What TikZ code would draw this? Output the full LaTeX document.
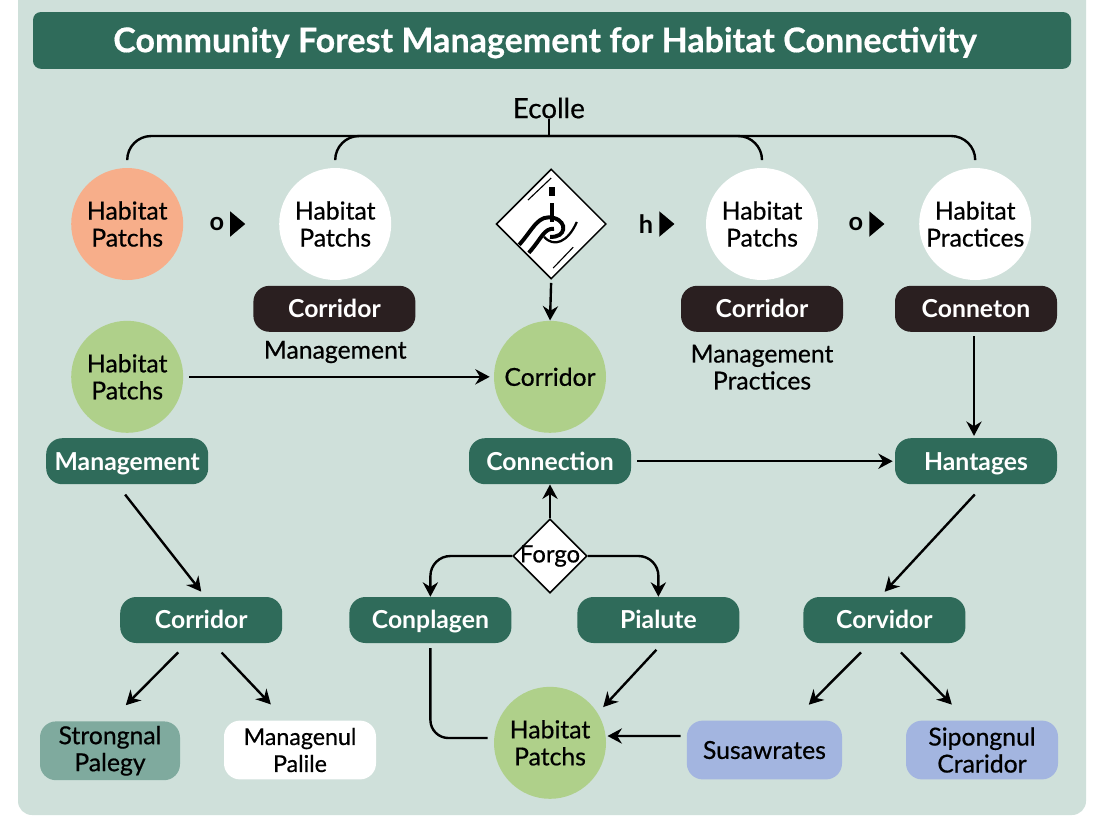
\documentclass[tikz,border=0pt]{standalone}
\usepackage{fontspec}
\setmainfont{Lato}
\newfontfamily\labelfont{Lato}[FakeBold=0.6]
\usetikzlibrary{arrows.meta}
\usetikzlibrary{shapes.geometric}
\definecolor{panelbg}{HTML}{CFE0DA}
\definecolor{forest}{HTML}{2F6B5A}
\definecolor{bark}{HTML}{2A1F20}
\definecolor{leaf}{HTML}{AFD08A}
\definecolor{peach}{HTML}{F7AE8A}
\definecolor{sage}{HTML}{7FAA9E}
\definecolor{skyblue}{HTML}{A3B5E0}
\tikzset{
  habitat/.style={circle,minimum size=2.8cm,inner sep=0pt,align=center,font=\labelfont\fontsize{17.6}{19.2}\selectfont},
  pill/.style={rounded corners=0.4cm,minimum width=4.05cm,minimum height=1.15cm,inner sep=0pt,text height=0.5cm,text depth=0.06cm,text=white,font=\fontsize{17.6}{19.2}\selectfont\bfseries},
  leafbox/.style={rounded corners=0.4cm,minimum width=3.8cm,minimum height=1.47cm,inner sep=0pt,align=center,font=\labelfont\fontsize{17.6}{19.2}\selectfont},
  caption/.style={inner sep=0pt,align=center,font=\labelfont\fontsize{17.6}{19.2}\selectfont},
  flow/.style={-{Stealth[length=0.36cm,width=0.38cm]},black,line width=1.7pt},
  stem/.style={black,line width=1.7pt},
  playtip/.style={isosceles triangle,isosceles triangle apex angle=80,fill=black,inner sep=0pt,minimum height=0.38cm},
  glyph/.style={inner sep=0pt,font=\fontsize{18}{20}\selectfont\bfseries}
}
\begin{document}
\begin{tikzpicture}
  \useasboundingbox (0,0) rectangle (27.6,-20.8);
  \fill [white] (0,0) rectangle (27.6,-20.8);
  \fill [panelbg,rounded corners=0.35cm] (0.45,0.5) rectangle (27.15,-20.375);
  \node (title) at (13.8,-1.01) [fill=forest,rounded corners=0.2cm,minimum width=25.95cm,minimum height=1.42cm,inner ysep=0pt,text height=0.75cm,text depth=0.16cm,text=white,font=\fontsize{24.2}{29}\selectfont\bfseries\addfontfeature{FakeBold=0.5}] {Community Forest Management for Habitat Connectivity\hspace*{0.35cm}};
  \node (ecolle) at (13.72,-2.7) [caption,font=\labelfont\fontsize{19.8}{22}\selectfont] {Ecolle};
  \coordinate (bartop) at (13.72,-3.4);

  % top row
  \node (patcha) at (3.18,-5.6) [habitat,fill=peach] {Habitat\\Patchs};
  \node (patchb) at (8.38,-5.6) [habitat,fill=white] {Habitat\\Patchs};
  \node (knot) at (13.78,-5.6) [diamond,aspect=1,draw=black,fill=white,line width=1.1pt,minimum size=2.75cm,inner sep=0pt] {};
  \node (patchc) at (19.05,-5.6) [habitat,fill=white] {Habitat\\Patchs};
  \node (practice) at (24.38,-5.6) [habitat,fill=white] {Habitat\\Practices};

  \node (oa) at (5.42,-5.6) [glyph] {o};
  \node (tipa) at (5.9,-5.6) [playtip] {};
  \node (hb) at (16.15,-5.6) [glyph] {h};
  \node (tipb) at (16.63,-5.6) [playtip] {};
  \node (oc) at (21.4,-5.6) [glyph] {o};
  \node (tipc) at (21.88,-5.6) [playtip] {};

  % knot inside the sign
  \draw [black,line width=0.8pt] (13.2,-5.0) -- (13.78,-4.45);
  \draw [black,line width=0.8pt] (13.83,-6.7) -- (14.33,-6.18);
  \fill [black] (13.72,-4.68) rectangle (13.87,-4.9);
  \draw [black,line width=2.8pt] (13.8,-5.08) -- (13.8,-5.55);
  \draw [black,line width=2.8pt] (12.98,-6.12) .. controls (13.35,-5.7) and (13.45,-5.35) .. (13.85,-5.45) .. controls (14.2,-5.55) and (14.15,-5.95) .. (13.75,-5.92);
  \draw [black,line width=2.8pt] (13.22,-6.32) .. controls (13.55,-5.95) and (13.6,-5.7) .. (13.85,-5.72);
  \draw [black,line width=1.6pt] (13.6,-5.92) .. controls (13.85,-6.2) and (14.2,-6.05) .. (14.42,-5.55);

  % dark labels
  \node (corridorb) at (8.36,-7.72) [pill,fill=bark] {Corridor};
  \node (corridorc) at (19.05,-7.72) [pill,fill=bark] {Corridor};
  \node (conneton) at (24.4,-7.72) [pill,fill=bark] {Conneton};
  \node (manageb) at (8.38,-8.8) [caption] {Management};
  \node (managec) at (19.05,-9.18) [caption] {Management\\Practices};

  % middle row
  \node (patchd) at (3.18,-9.42) [habitat,fill=leaf] {Habitat\\Patchs};
  \node (corridormid) at (13.75,-9.42) [habitat,fill=leaf] {Corridor};
  \node (managed) at (3.18,-11.53) [pill,fill=forest] {Management};
  \node (connection) at (13.75,-11.53) [pill,fill=forest] {Connection};
  \node (hantages) at (24.4,-11.53) [pill,fill=forest] {Hantages};
  \node (forgo) at (13.75,-13.9) [diamond,aspect=1,draw=black,fill=white,line width=1.1pt,minimum size=1.85cm,inner sep=0pt,font=\labelfont\fontsize{17}{19.2}\selectfont] {\makebox[0pt]{Forgo}};

  % lower row
  \node (corridorl) at (5.03,-15.5) [pill,fill=forest] {Corridor};
  \node (conplagen) at (10.76,-15.5) [pill,fill=forest] {Conplagen};
  \node (pialute) at (16.46,-15.5) [pill,fill=forest] {Pialute};
  \node (corvidor) at (22.11,-15.5) [pill,fill=forest] {Corvidor};

  % bottom row
  \node (strongnal) at (2.75,-18.77) [leafbox,fill=sage,minimum width=3.5cm] {Strongnal\\Palegy};
  \node (managenul) at (7.5,-18.75) [leafbox,fill=white,font=\labelfont\fontsize{16.5}{19.2}\selectfont] {Managenul\\Palile};
  \node (patche) at (13.75,-18.57) [habitat,fill=leaf] {Habitat\\Patchs};
  \node (susawrates) at (19.11,-18.75) [leafbox,fill=skyblue,minimum width=3.88cm] {Susawrates};
  \node (sipongnul) at (24.55,-18.75) [leafbox,fill=skyblue] {Sipongnul\\Craridor};

  % bracket over the top row
  \draw [stem,rounded corners=0.6cm] ([yshift=0.2cm]patcha.north) |- (bartop) -| ([yshift=0.2cm]practice.north);
  \draw [stem,rounded corners=0.6cm] ([yshift=0.2cm]patchb.north) |- (bartop);
  \draw [stem,rounded corners=0.6cm] ([yshift=0.2cm]patchc.north) |- (bartop);
  \draw [stem] (ecolle.south) -- (bartop);

  \draw [flow,shorten <=0.08cm] (knot.south) -- (corridormid.north);
  \draw [flow,shorten <=0.15cm,shorten >=0.1cm] (patchd.east) -- (corridormid.west);
  \draw [flow,shorten <=0.15cm,shorten >=0.05cm] (connection.east) -- (hantages.west);
  \draw [flow,shorten <=0.1cm,shorten >=0.05cm] ([xshift=-0.05cm]conneton.south) -- ([xshift=-0.05cm]hantages.north);
  \draw [flow,shorten <=0.32cm,shorten >=0.16cm] ([xshift=-0.25cm]managed.south) -- ([xshift=0.1cm]corridorl.north);
  \draw [flow,shorten <=0.34cm,shorten >=0.17cm] ([xshift=0.2cm]hantages.south) -- ([xshift=-0.11cm]corvidor.north);
  \draw [flow] (forgo.north) -- (connection.south);
  \draw [flow,rounded corners=0.5cm] (forgo.west) -| (conplagen.north);
  \draw [flow,rounded corners=0.5cm] (forgo.east) -| (pialute.north);
  \draw [flow,shorten <=0.32cm,shorten >=0.56cm] ([xshift=-0.35cm]corridorl.south) -- (strongnal.north);
  \draw [flow,shorten <=0.32cm,shorten >=0.55cm] ([xshift=0.29cm]corridorl.south) -- ([xshift=-0.35cm]managenul.north);
  \draw [flow,shorten <=0.32cm,shorten >=0.55cm] ([xshift=-0.36cm]corvidor.south) -- ([xshift=0.72cm]susawrates.north);
  \draw [flow,shorten <=0.32cm,shorten >=0.55cm] ([xshift=0.19cm]corvidor.south) -- ([xshift=-0.37cm]sipongnul.north);
  \draw [flow,shorten <=0.22cm,shorten >=0.2cm] ([xshift=0.1cm]pialute.south) -- (patche.32);
  \draw [flow,shorten <=0.15cm,shorten >=0.03cm] ([yshift=0.35cm]susawrates.west) -- ([yshift=0.17cm]patche.east);
  \draw [stem,rounded corners=0.45cm,shorten <=0.12cm,shorten >=0.15cm] (conplagen.south) |- ([yshift=0.12cm]patche.west);
\end{tikzpicture}
\end{document}
